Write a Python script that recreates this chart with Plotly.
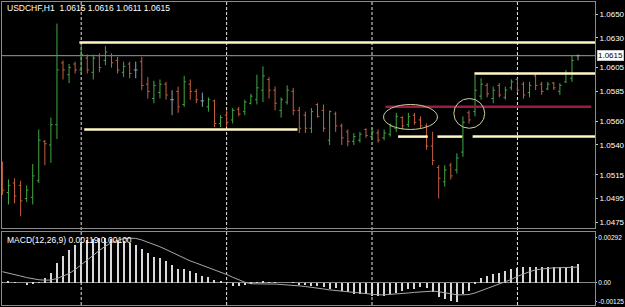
import plotly.graph_objects as go

# ---------------- data ----------------
bar_index = list(range(-1, 95))

opens = [1.0523, 1.0500, 1.0508, 1.0506, 1.0495, 1.0496, 1.0510, 1.0543, 1.0540, 1.0557,
         1.0609, 1.0599, 1.0608, 1.0603, 1.0613, 1.0601, 1.0615, 1.0611, 1.0615, 1.0611,
         1.0601, 1.0608, 1.0603, 1.0610, 1.0591, 1.0579, 1.0584, 1.0591, 1.0578, 1.0585,
         1.0574, 1.0591, 1.0585, 1.0577, 1.0572, 1.0577, 1.0558, 1.0565, 1.0561, 1.0570,
         1.0568, 1.0575, 1.0578, 1.0586, 1.0595, 1.0586, 1.0569, 1.0576, 1.0585, 1.0569,
         1.0565, 1.0554, 1.0574, 1.0569, 1.0544, 1.0566, 1.0556, 1.0551, 1.0543, 1.0544,
         1.0553, 1.0547, 1.0550, 1.0546, 1.0549, 1.0554, 1.0563, 1.0557, 1.0565, 1.0561,
         1.0556, 1.0539, 1.0521, 1.0509, 1.0523, 1.0519, 1.0534, 1.0567, 1.0568, 1.0581,
         1.0590, 1.0579, 1.0590, 1.0580, 1.0588, 1.0595, 1.0591, 1.0584, 1.0598, 1.0591,
         1.0587, 1.0592, 1.0585, 1.0593, 1.0596, 1.0615]
highs = [1.0526, 1.0511, 1.0512, 1.0510, 1.0506, 1.0524, 1.0553, 1.0544, 1.0563, 1.0642,
         1.0611, 1.0608, 1.0610, 1.0624, 1.0616, 1.0616, 1.0617, 1.0623, 1.0617, 1.0614,
         1.0610, 1.0610, 1.0610, 1.0614, 1.0597, 1.0594, 1.0595, 1.0593, 1.0586, 1.0589,
         1.0598, 1.0595, 1.0587, 1.0584, 1.0580, 1.0578, 1.0565, 1.0569, 1.0571, 1.0572,
         1.0578, 1.0583, 1.0599, 1.0606, 1.0597, 1.0589, 1.0580, 1.0590, 1.0588, 1.0572,
         1.0568, 1.0571, 1.0575, 1.0574, 1.0569, 1.0568, 1.0558, 1.0553, 1.0550, 1.0551,
         1.0554, 1.0554, 1.0553, 1.0553, 1.0558, 1.0567, 1.0564, 1.0567, 1.0567, 1.0564,
         1.0558, 1.0551, 1.0523, 1.0523, 1.0525, 1.0533, 1.0564, 1.0569, 1.0599, 1.0596,
         1.0592, 1.0589, 1.0592, 1.0589, 1.0595, 1.0596, 1.0593, 1.0593, 1.0600, 1.0593,
         1.0593, 1.0593, 1.0592, 1.0603, 1.0615, 1.0616]
lows = [1.0498, 1.0490, 1.0491, 1.0480, 1.0492, 1.0490, 1.0508, 1.0523, 1.0525, 1.0545,
        1.0595, 1.0592, 1.0600, 1.0599, 1.0600, 1.0595, 1.0601, 1.0607, 1.0605, 1.0600,
        1.0597, 1.0596, 1.0596, 1.0586, 1.0579, 1.0575, 1.0579, 1.0578, 1.0565, 1.0567,
        1.0572, 1.0578, 1.0575, 1.0572, 1.0568, 1.0555, 1.0555, 1.0555, 1.0558, 1.0564,
        1.0565, 1.0574, 1.0574, 1.0576, 1.0579, 1.0569, 1.0563, 1.0574, 1.0565, 1.0550,
        1.0550, 1.0550, 1.0563, 1.0551, 1.0540, 1.0551, 1.0540, 1.0539, 1.0540, 1.0542,
        1.0546, 1.0544, 1.0542, 1.0544, 1.0547, 1.0551, 1.0553, 1.0555, 1.0557, 1.0554,
        1.0536, 1.0523, 1.0495, 1.0505, 1.0511, 1.0516, 1.0530, 1.0558, 1.0564, 1.0578,
        1.0580, 1.0575, 1.0580, 1.0578, 1.0586, 1.0584, 1.0579, 1.0580, 1.0586, 1.0582,
        1.0586, 1.0586, 1.0582, 1.0592, 1.0593, 1.0611]
closes = [1.0502, 1.0506, 1.0497, 1.0493, 1.0502, 1.0514, 1.0544, 1.0541, 1.0557, 1.0603,
          1.0603, 1.0605, 1.0603, 1.0616, 1.0603, 1.0613, 1.0605, 1.0618, 1.0609, 1.0603,
          1.0606, 1.0600, 1.0603, 1.0590, 1.0585, 1.0590, 1.0591, 1.0582, 1.0578, 1.0572,
          1.0593, 1.0585, 1.0578, 1.0577, 1.0578, 1.0558, 1.0563, 1.0559, 1.0569, 1.0566,
          1.0576, 1.0581, 1.0588, 1.0598, 1.0586, 1.0575, 1.0578, 1.0586, 1.0569, 1.0554,
          1.0554, 1.0568, 1.0564, 1.0554, 1.0568, 1.0556, 1.0546, 1.0543, 1.0547, 1.0549,
          1.0548, 1.0551, 1.0544, 1.0550, 1.0556, 1.0564, 1.0556, 1.0564, 1.0559, 1.0556,
          1.0539, 1.0527, 1.0512, 1.0519, 1.0514, 1.0529, 1.0559, 1.0561, 1.0586, 1.0591,
          1.0583, 1.0586, 1.0582, 1.0586, 1.0593, 1.0586, 1.0582, 1.0590, 1.0590, 1.0585,
          1.0591, 1.0588, 1.0590, 1.0600, 1.0611, 1.0615]

macd_main = [0.00002, 0.00005, 0.00003, 0.00000, -0.00015, -0.00012, 0.00002, 0.00032, 0.00064, 0.00127,
             0.00169, 0.00212, 0.00243, 0.00265, 0.00275, 0.00282, 0.00288, 0.00292, 0.00284, 0.00275,
             0.00269, 0.00254, 0.00243, 0.00218, 0.00191, 0.00163, 0.00159, 0.00142, 0.00116, 0.00085,
             0.00085, 0.00074, 0.00064, 0.00042, 0.00036, 0.00015, 0.00006, -0.00002, -0.00021, -0.00021,
             -0.00015, -0.00005, 0.00002, 0.00004, 0.00003, 0.00002, 0.00000, 0.00000, 0.00002, -0.00015,
             -0.00018, -0.00021, -0.00021, -0.00032, -0.00042, -0.00036, -0.00053, -0.00064, -0.00074, -0.00074,
             -0.00074, -0.00085, -0.00085, -0.00085, -0.00074, -0.00070, -0.00053, -0.00044, -0.00044, -0.00032,
             -0.00036, -0.00064, -0.00095, -0.00106, -0.00118, -0.00125, -0.00074, -0.00053, -0.00011, 0.00032,
             0.00042, 0.00053, 0.00064, 0.00074, 0.00085, 0.00095, 0.00100, 0.00100, 0.00102, 0.00100,
             0.00100, 0.00100, 0.00100, 0.00102, 0.00110, 0.00119]
macd_signal = [0.00070, 0.00062, 0.00052, 0.00042, 0.00032, 0.00024, 0.00018, 0.00015, 0.00016, 0.00026,
               0.00040, 0.00058, 0.00084, 0.00116, 0.00146, 0.00178, 0.00208, 0.00236, 0.00258, 0.00274,
               0.00284, 0.00288, 0.00286, 0.00276, 0.00262, 0.00248, 0.00232, 0.00214, 0.00196, 0.00176,
               0.00156, 0.00140, 0.00126, 0.00112, 0.00098, 0.00084, 0.00068, 0.00052, 0.00034, 0.00016,
               0.00002, -0.00008, -0.00010, -0.00010, -0.00010, -0.00010, -0.00012, -0.00014, -0.00018, -0.00022,
               -0.00026, -0.00030, -0.00036, -0.00042, -0.00048, -0.00052, -0.00056, -0.00062, -0.00068, -0.00072,
               -0.00076, -0.00078, -0.00080, -0.00080, -0.00078, -0.00076, -0.00072, -0.00068, -0.00064, -0.00060,
               -0.00058, -0.00056, -0.00060, -0.00066, -0.00074, -0.00080, -0.00080, -0.00078, -0.00068, -0.00054,
               -0.00040, -0.00026, -0.00012, 0.00002, 0.00020, 0.00040, 0.00056, 0.00070, 0.00082, 0.00088,
               0.00092, 0.00095, 0.00097, 0.00098, 0.00099, 0.00100]

price_ticks = [1.0650, 1.0630, 1.0605, 1.0585, 1.0560, 1.0540, 1.0515, 1.0495, 1.0475]
macd_ticks = [0.00292, 0.0, -0.00125]
macd_tick_text = ["0.00292", "0.00", "-0.00125"]
day_breaks = [12, 36, 60, 84]
bid_price = 1.0615
header = "USDCHF,H1  1.0615 1.0616 1.0611 1.0615"
macd_label = "MACD(12,26,9) 0.00119 0.00100"

# drawn analysis objects (price levels, bar spans)
yellow_levels = [1.0626, 1.0553, 1.0600, 1.0547, 1.0547, 1.0547]
yellow_spans = [(11.7, 97.0), (12.5, 47.7), (76.9, 97.0), (64.3, 69.2), (70.8, 74.9), (76.6, 97.0)]
red_level = 1.0572
red_span = (62.2, 96.2)
ellipses = [(61.9, 70.8, 1.0553, 1.0574), (73.5, 78.6, 1.0554, 1.0579)]

# ---------------- styling ----------------
X_RANGE = [-1.07, 96.8]
GREEN = "#41a843"
RED = "#c55f40"
GRAY = "#8fa3ad"
FONT = "Liberation Sans Narrow, Liberation Sans, Arial, sans-serif"
TICK_FONT = dict(family=FONT, size=8, color="#ffffff")
MACD_TICK_FONT = dict(family=FONT, size=6.5, color="#ffffff")

fig = go.Figure()

groups = {"bull": GREEN, "bear": RED, "doji": GRAY}
for name, col in groups.items():
    xs, o, h, l, c = [], [], [], [], []
    for k, xi in enumerate(bar_index):
        cond = {"bull": closes[k] > opens[k], "bear": closes[k] < opens[k], "doji": closes[k] == opens[k]}[name]
        if cond:
            xs.append(xi); o.append(opens[k]); h.append(highs[k]); l.append(lows[k]); c.append(closes[k])
    fig.add_trace(go.Ohlc(x=xs, open=o, high=h, low=l, close=c, xaxis="x", yaxis="y",
                          increasing=dict(line=dict(color=col, width=1)),
                          decreasing=dict(line=dict(color=col, width=1)),
                          tickwidth=0.3, hoverinfo="skip"))

fig.add_trace(go.Bar(x=bar_index, y=macd_main, xaxis="x2", yaxis="y2", width=0.17,
                     marker=dict(color="#d8d8d8", line=dict(width=0)), hoverinfo="skip"))
fig.add_trace(go.Scatter(x=bar_index, y=macd_signal, xaxis="x2", yaxis="y2", mode="lines",
                         line=dict(color="#a8a8a8", width=1), hoverinfo="skip"))

shapes = []
for d in day_breaks:
    shapes.append(dict(type="line", xref="x", yref="paper", x0=d, x1=d, y0=0, y1=1,
                       line=dict(color="#e6e6e6", width=1, dash="3px,2px"), layer="below"))
shapes.append(dict(type="line", xref="paper", yref="y", x0=0, x1=1, y0=bid_price, y1=bid_price,
                   line=dict(color="#9a9a9a", width=1), layer="below"))
shapes.append(dict(type="line", xref="paper", yref="y2", x0=0, x1=1, y0=0, y1=0,
                   line=dict(color="#8a8a8a", width=1), layer="below"))
for lvl, (a, b) in zip(yellow_levels, yellow_spans):
    shapes.append(dict(type="line", xref="x", yref="y", x0=a, x1=b, y0=lvl, y1=lvl,
                       line=dict(color="#fff8c4", width=2.5)))
shapes.append(dict(type="line", xref="x", yref="y", x0=red_span[0], x1=red_span[1], y0=red_level, y1=red_level,
                   line=dict(color="#9c1a44", width=2.5)))
for (xa, xb, ya, yb) in ellipses:
    shapes.append(dict(type="circle", xref="x", yref="y", x0=xa, x1=xb, y0=ya, y1=yb,
                       line=dict(color="#cfcf98", width=1)))

annotations = [
    dict(text=header, xref="paper", yref="paper", x=0.005, y=0.981, xanchor="left", yanchor="middle",
         showarrow=False, font=dict(family=FONT, size=8.5, color="#ffffff")),
    dict(text=macd_label, xref="paper", yref="paper", x=0.005, y=0.214, xanchor="left", yanchor="middle",
         showarrow=False, font=dict(family=FONT, size=8.5, color="#ffffff")),
    dict(text=f"{bid_price:.4f}", xref="paper", yref="y", x=1, y=bid_price, xanchor="left", yanchor="middle",
         xshift=2, showarrow=False, bgcolor="#ffffff", bordercolor="#c8c8c8", borderwidth=1, borderpad=0,
         font=dict(family=FONT, size=8, color="#000000")),
]

axis_common = dict(showgrid=False, zeroline=False, showline=True, linecolor="#8c8c8c", mirror=True,
                   automargin=False)
fig.update_layout(
    width=625, height=307,
    margin=dict(l=2, r=30, t=2, b=2, autoexpand=False),
    paper_bgcolor="#000000", plot_bgcolor="#000000",
    showlegend=False, hovermode=False, bargap=0,
    xaxis=dict(domain=[0, 1], anchor="y", range=X_RANGE, showticklabels=False, ticks="",
               rangeslider=dict(visible=False), **axis_common),
    yaxis=dict(domain=[0.2541, 1], anchor="x", side="right", range=[1.04702, 1.06601],
               tickvals=price_ticks, ticktext=[f"{v:.4f}" for v in price_ticks],
               ticks="outside", ticklen=2, tickcolor="#c8c8c8", ticklabeloverflow="allow",
               tickfont=TICK_FONT, **axis_common),
    xaxis2=dict(domain=[0, 1], anchor="y2", range=X_RANGE, showticklabels=False, ticks="",
                rangeslider=dict(visible=False), **axis_common),
    yaxis2=dict(domain=[0, 0.2409], anchor="x2", side="right", range=[-0.00146, 0.003277],
                tickvals=macd_ticks, ticktext=macd_tick_text,
                ticks="outside", ticklen=1, tickcolor="#c8c8c8", ticklabeloverflow="allow",
                tickfont=MACD_TICK_FONT, **axis_common),
    shapes=shapes, annotations=annotations,
)

fig.write_html("out.html")
